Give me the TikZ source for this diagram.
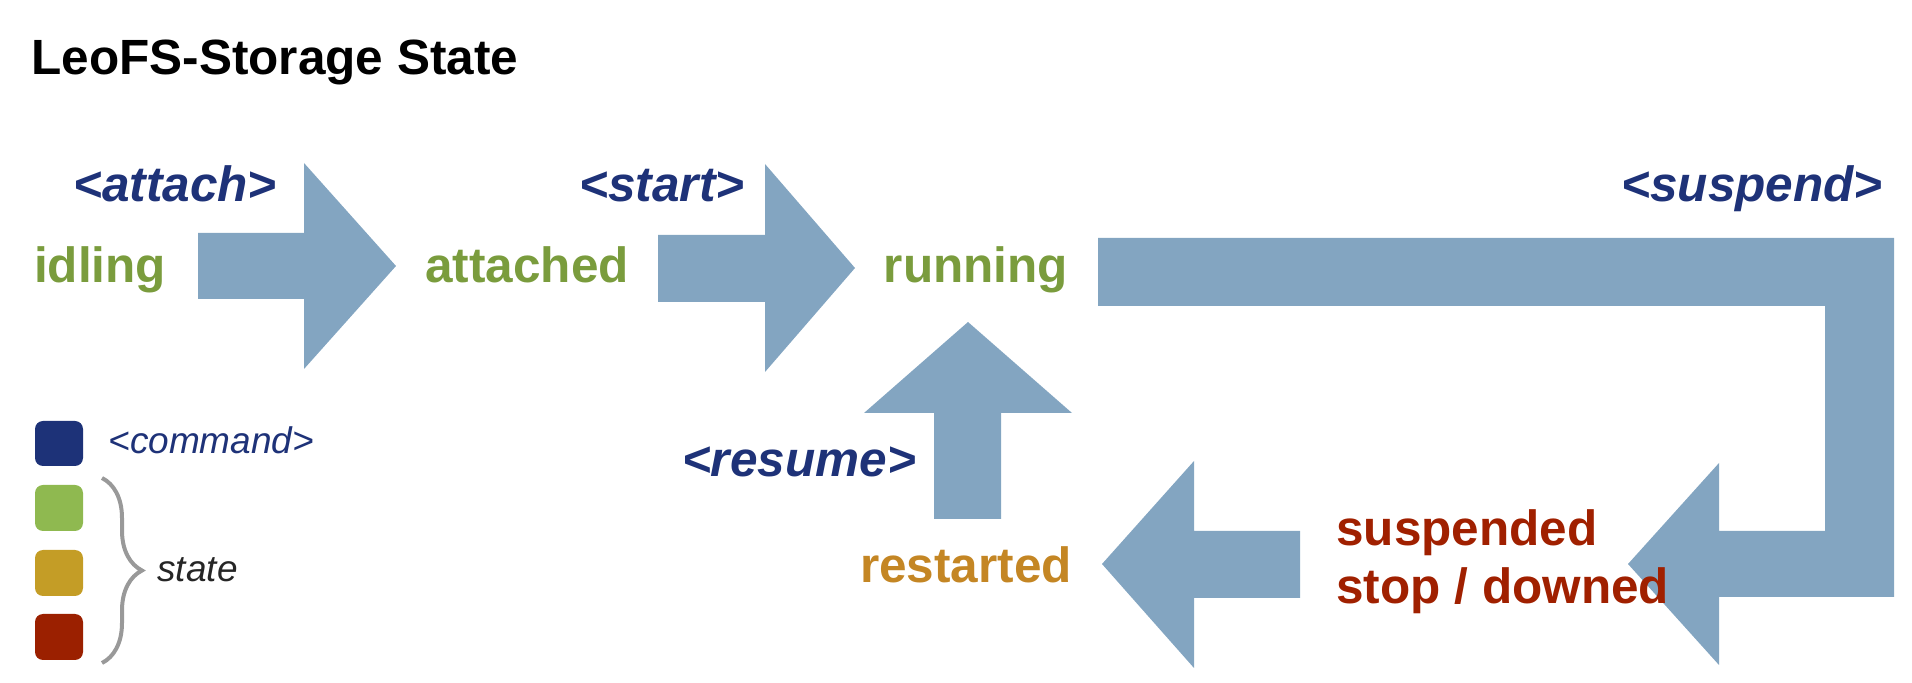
\documentclass[tikz,border=0pt]{standalone}
\usepackage{fontspec}
\setmainfont{Liberation Sans}
\usetikzlibrary{decorations.pathreplacing}

\definecolor{arrowblue}{RGB}{131,165,193}
\definecolor{cmdblue}{RGB}{30,50,120}
\definecolor{stategreen}{RGB}{122,156,61}
\definecolor{restartgold}{RGB}{196,134,36}
\definecolor{downred}{RGB}{160,32,0}
\definecolor{keyblue}{RGB}{29,50,120}
\definecolor{keygreen}{RGB}{143,185,80}
\definecolor{keygold}{RGB}{196,157,38}
\definecolor{keyred}{RGB}{155,32,0}

\begin{document}
\begin{tikzpicture}[x=0.5pt, y=-0.5pt,
    blockarrow/.style={fill=arrowblue},
    cmdlbl/.style={font=\fontsize{24.75}{29}\selectfont\bfseries\itshape,
                   text=cmdblue, inner sep=0pt, anchor=base},
    statelbl/.style={font=\fontsize{24.75}{29}\selectfont\bfseries,
                     inner sep=0pt, anchor=base},
    keybox/.style={fill=#1, rounded corners=4pt}]
  \useasboundingbox (0,0) rectangle (1912,683);

  % Title
  \node[font=\fontsize{24.75}{29}\selectfont\bfseries, anchor=base west,
        inner sep=0pt] (title) at (31,75) {LeoFS-Storage State};

  % Arrows
  \fill[blockarrow] (198,233) -- (304,233) -- (304,163) -- (396,266)
    -- (304,369) -- (304,299) -- (198,299) -- cycle;
  \fill[blockarrow] (658,235) -- (765,235) -- (765,164) -- (855,268)
    -- (765,372) -- (765,302) -- (658,302) -- cycle;
  \fill[blockarrow] (1098,238) -- (1894,238) -- (1894,597) -- (1719,597)
    -- (1719,665) -- (1628,564) -- (1719,463) -- (1719,531) -- (1825,531)
    -- (1825,306) -- (1098,306) -- cycle;
  \fill[blockarrow] (1300,531) -- (1194,531) -- (1194,461) -- (1102,564)
    -- (1194,668) -- (1194,598) -- (1300,598) -- cycle;
  \fill[blockarrow] (934,519) -- (934,413) -- (864,413) -- (968,322)
    -- (1072,413) -- (1001,413) -- (1001,519) -- cycle;

  % States
  \node[statelbl, text=stategreen] (idling) at (100,283) {idling};
  \node[statelbl, text=stategreen] (attached) at (527,283) {attached};
  \node[statelbl, text=stategreen] (running) at (976,283) {running};
  \node[statelbl, text=restartgold] (restarted) at (966,583) {restarted};
  \node[statelbl, text=downred, anchor=base west, align=left]
    (suspended) at (1336,604) {suspended\\stop / downed};

  % Commands
  \node[cmdlbl] (attach) at (175,202) {<attach>};
  \node[cmdlbl] (start) at (662,202) {<start>};
  \node[cmdlbl] (suspend) at (1752,202) {<suspend>};
  \node[cmdlbl] (resume) at (799,477) {<resume>};

  % Legend
  \fill[keybox=keyblue] (35,421) rectangle (83,466);
  \fill[keybox=keygreen] (35,485) rectangle (83,531);
  \fill[keybox=keygold] (35,550) rectangle (83,596);
  \fill[keybox=keyred] (35,614) rectangle (83,660);
  \node[font=\fontsize{18.5}{22}\selectfont\itshape, text=cmdblue,
        anchor=base west, inner sep=0pt] (command) at (108,454) {<command>};
  \draw[gray!80, line width=2pt, decorate,
        decoration={brace, amplitude=20pt}] (102,478) -- (102,663);
  \node[font=\fontsize{18.5}{22}\selectfont\itshape, text=black!85,
        anchor=base west, inner sep=0pt] (statekey) at (157,582) {state};
\end{tikzpicture}
\end{document}
